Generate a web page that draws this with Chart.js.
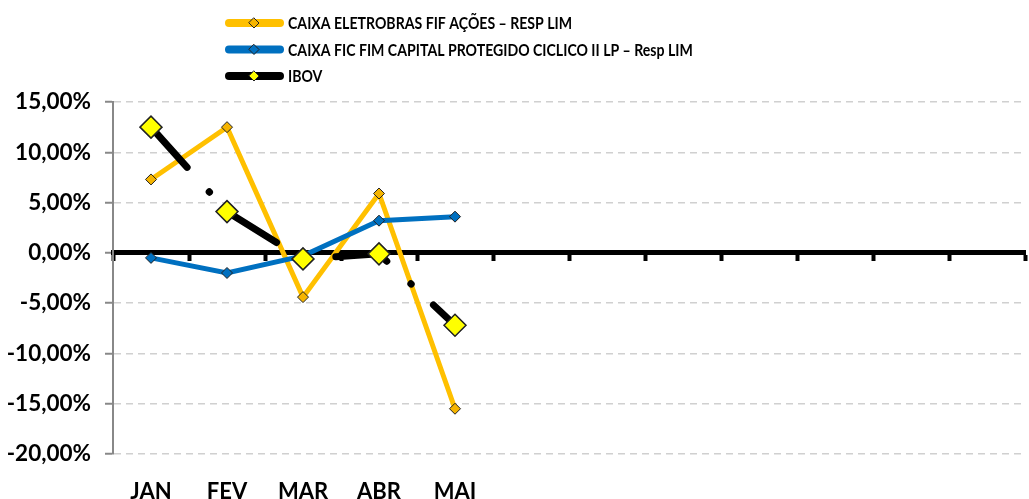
<!DOCTYPE html>
<html>
<head>
<meta charset="utf-8">
<script src="https://cdn.jsdelivr.net/npm/chart.js@4/dist/chart.umd.min.js"></script>
<style>
  html, body { margin: 0; padding: 0; background: #fff; }
</style>
</head>
<body>
<canvas id="chart" width="1029" height="499"></canvas>
<script>
const months = ['JAN', 'FEV', 'MAR', 'ABR', 'MAI', '', '', '', '', '', '', ''];
const eletrobras = [7.3, 12.5, -4.4, 5.9, -15.5];
const ciclico = [-0.5, -2.0, -0.3, 3.2, 3.6];
const ibov = [12.5, 4.1, -0.6, -0.1, -7.2];
const yTickValues = [-20, -15, -10, -5, 0, 5, 10, 15];

const FONT = "Lato, 'Open Sans', sans-serif";

// legend stacked in one column above the plot, like the Excel original
const stackedLegend = {
    id: 'stackedLegend',
    afterDraw(chart) {
        const ctx = chart.ctx;
        chart.data.datasets.forEach((ds, i) => {
            const y = 23 + i * 26.5;
            ctx.save();
            ctx.lineCap = 'round';
            ctx.lineWidth = 8;
            ctx.strokeStyle = ds.borderColor;
            ctx.beginPath();
            ctx.moveTo(229, y);
            ctx.lineTo(280, y);
            ctx.stroke();
            // small diamond
            const r = 5;
            ctx.beginPath();
            ctx.moveTo(254, y - r);
            ctx.lineTo(254 + r, y);
            ctx.lineTo(254, y + r);
            ctx.lineTo(254 - r, y);
            ctx.closePath();
            ctx.fillStyle = ds.pointBackgroundColor;
            ctx.fill();
            ctx.lineWidth = 1;
            ctx.strokeStyle = '#222';
            ctx.stroke();
            // narrow-ish text, like Calibri
            ctx.translate(288, y + 1);
            ctx.scale(0.83, 1);
            ctx.font = 'bold 17px ' + FONT;
            ctx.fillStyle = '#000';
            ctx.textBaseline = 'middle';
            ctx.fillText(ds.label, 0, 0);
            ctx.restore();
        });
    }
};

new Chart(document.getElementById('chart'), {
    type: 'line',
    data: {
        labels: months,
        datasets: [{
            label: 'CAIXA ELETROBRAS FIF AÇÕES – RESP LIM',
            data: eletrobras,
            borderColor: '#FFC000',
            borderWidth: 5,
            pointStyle: 'rectRot',
            pointRadius: 5.5,
            pointBackgroundColor: '#F5B400',
            pointBorderColor: '#222',
            pointBorderWidth: 1,
            order: 2
        }, {
            label: 'CAIXA FIC FIM CAPITAL PROTEGIDO CICLICO II LP – Resp LIM',
            data: ciclico,
            borderColor: '#0070C0',
            borderWidth: 5,
            pointStyle: 'rectRot',
            pointRadius: 5.5,
            pointBackgroundColor: '#0070C0',
            pointBorderColor: '#222',
            pointBorderWidth: 1,
            order: 1
        }, {
            label: 'IBOV',
            data: ibov,
            borderColor: '#000',
            borderWidth: 7,
            borderDash: [54, 33, 0.5, 30.5],
            borderCapStyle: 'round',
            pointStyle: 'rectRot',
            pointRadius: 11,
            pointBackgroundColor: '#FFFF00',
            pointBorderColor: '#222',
            pointBorderWidth: 1.5,
            order: 0
        }]
    },
    options: {
        responsive: false,
        animation: false,
        layout: { autoPadding: false, padding: { top: 102, right: 4, left: 0, bottom: 0 } },
        plugins: {
            legend: { display: false },
            tooltip: { enabled: false }
        },
        elements: { line: { tension: 0 } },
        scales: {
            x: {
                type: 'category',
                position: { y: 0 },
                offset: true,
                grid: {
                    offset: true,
                    drawOnChartArea: false,
                    drawTicks: true,
                    tickLength: 6,
                    tickWidth: 4,
                    tickColor: '#000'
                },
                border: { color: '#000', width: 5 },
                ticks: { display: false }
            },
            xb: {
                type: 'category',
                position: 'bottom',
                offset: true,
                grid: { display: false, drawTicks: false },
                border: { display: false },
                afterFit: s => { s.height = 45; },
                ticks: {
                    padding: 25,
                    color: '#000',
                    maxRotation: 0,
                    autoSkip: false,
                    font: { family: FONT, size: 22, weight: 'bold' }
                }
            },
            y: {
                min: -20,
                max: 15,
                afterBuildTicks: s => { s.ticks = yTickValues.map(v => ({ value: v })); },
                afterFit: s => { s.width = 113; },
                grid: {
                    color: c => (c.tick && c.tick.value === 0) ? 'rgba(0,0,0,0)' : '#d0d0d0',
                    lineWidth: 1.5,
                    tickColor: '#888',
                    tickLength: 8,
                    tickWidth: 2
                },
                border: { color: '#888', width: 2, dash: [7, 5] },
                ticks: {
                    padding: 14,
                    color: '#000',
                    font: { family: FONT, size: 22.5, weight: 'bold' },
                    callback: v => v.toFixed(2).replace('.', ',') + '%'
                }
            }
        }
    },
    plugins: [stackedLegend]
});
</script>
</body>
</html>
